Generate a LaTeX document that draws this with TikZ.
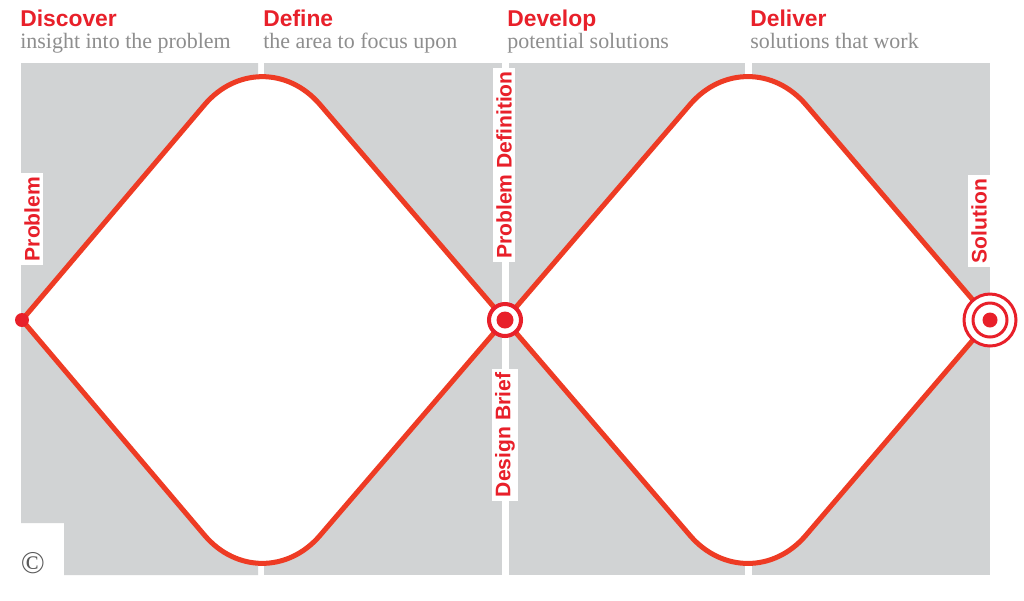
\documentclass[tikz,border=0pt]{standalone}
\usepackage{fontspec}
\setmainfont{Liberation Serif}
\newfontfamily\headfont{Liberation Sans}
\usepackage{xcolor}
\usepackage{tikz}
\usetikzlibrary{calc}
\definecolor{panelgrey}{HTML}{D1D3D4}
\definecolor{curve}{HTML}{EE3B24}
\definecolor{redtext}{HTML}{E8202A}
\definecolor{subgrey}{HTML}{8E8E8E}
\tikzset{
  panel/.style={fill=panelgrey, draw=none},
  diam/.style={draw=curve, fill=white, line width=2.85pt, line join=round, rounded corners=1.78cm},
  ttl/.style={text=redtext, font=\headfont\bfseries\fontsize{13}{15}\selectfont, anchor=base west, inner sep=0pt},
  sub/.style={text=subgrey, font=\fontsize{12.5}{14}\selectfont, anchor=base west, inner sep=0pt},
  vlab/.style={text=redtext, fill=white, rotate=90, font=\headfont\bfseries\fontsize{12}{14}\selectfont, inner sep=2pt},
  dot/.style={circle, fill=redtext, inner sep=0pt},
  ring/.style={circle, draw=redtext, fill=white, inner sep=0pt},
}
\begin{document}
\begin{tikzpicture}[x=0.02cm, y=-0.02cm]
  \useasboundingbox[fill=white] (0,0) rectangle (1024,600);

  % grey panels
  \fill[panel] (21,63) -- (258,63) -- (258,575) -- (64,575) -- (64,523) -- (21,523) -- cycle;
  \fill[panel] (264,63) rectangle (502,575);
  \fill[panel] (509,63) rectangle (745,575);
  \fill[panel] (752,63) rectangle (990,575);

  \coordinate (L) at (22,320);
  \coordinate (TL) at (262,37);
  \coordinate (BL) at (262,603);
  \coordinate (M) at (505,320);
  \coordinate (TR) at (748,37);
  \coordinate (BR) at (748,603);
  \coordinate (R) at (990,320);

  % the two diamonds, each drawn as two halves
  \filldraw[diam] (L) -- (TL) -- (M);
  \filldraw[diam] (L) -- (BL) -- (M);
  \filldraw[diam] (M) -- (TR) -- (R);
  \filldraw[diam] (M) -- (BR) -- (R);

  % phase titles
  \node[ttl] (discover) at (20,26) {Discover};
  \node[sub] (discoversub) at (20,48) {insight into the problem};
  \node[ttl] (define) at (263,26) {Define};
  \node[sub] (definesub) at (263,48) {the area to focus upon};
  \node[ttl] (develop) at (507,26) {Develop};
  \node[sub] (developsub) at (507,48) {potential solutions};
  \node[ttl] (deliver) at (750,26) {Deliver};
  \node[sub] (deliversub) at (750,48) {solutions that work};

  % vertical labels
  \node[vlab] (problem) at (32,219) {Problem};
  \node[vlab] (probdef) at (504,165) {Problem Definition};
  \node[vlab] (brief) at (505,435) {Design Brief};
  \node[vlab] (solution) at (979,221) {Solution};

  % markers
  \node[dot, minimum size=0.28cm] (start) at (L) {};
  \node[ring, line width=2.3pt, minimum size=0.64cm] (midring) at (M) {};
  \node[dot, minimum size=0.34cm] (middot) at (M) {};
  \node[ring, line width=1.7pt, minimum size=1.04cm] (endouter) at (R) {};
  \node[ring, line width=1.7pt, minimum size=0.68cm] (endinner) at (R) {};
  \node[dot, minimum size=0.3cm] (enddot) at (R) {};

  \node[text=black!65, font=\fontsize{18}{20}\selectfont] (copy) at (33,563) {\textcopyright};
\end{tikzpicture}
\end{document}
